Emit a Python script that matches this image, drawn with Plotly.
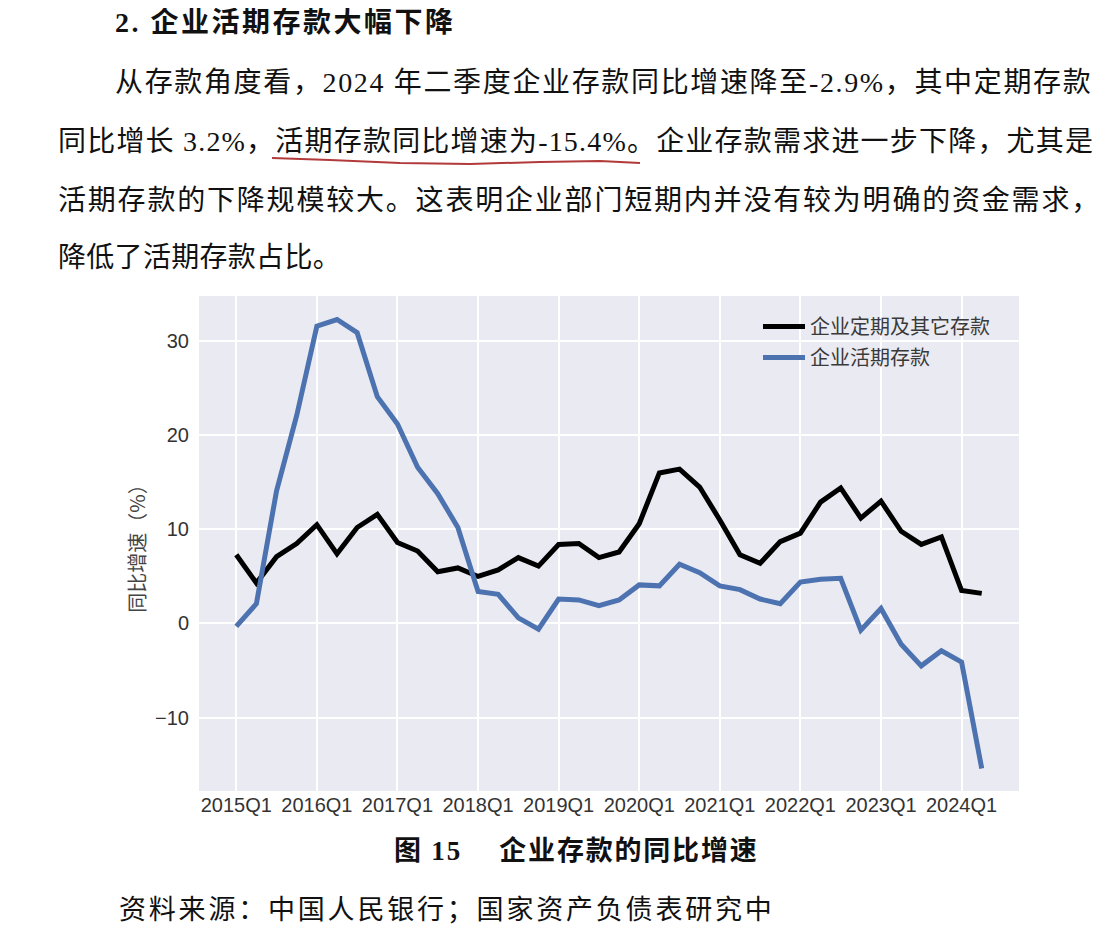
import plotly.graph_objects as go

# ---------------- data ----------------
quarters = [f"{y}Q{q}" for y in range(2015, 2025) for q in range(1, 5)][:38]
tick_labels = [f"{y}Q1" for y in range(2015, 2025)]

time_deposits = [7.3, 4.3, 7.1, 8.5, 10.5, 7.4, 10.2, 11.6,
                 8.6, 7.7, 5.5, 5.9, 5.0, 5.7, 7.0, 6.1,
                 8.4, 8.5, 7.0, 7.6, 10.6, 16.0, 16.4, 14.5,
                 11.0, 7.3, 6.4, 8.7, 9.6, 12.9, 14.4, 11.2,
                 13.0, 9.8, 8.4, 9.2, 3.5, 3.2]
demand_deposits = [-0.3, 2.1, 14.1, 22.1, 31.6, 32.3, 30.9, 24.1,
                   21.2, 16.6, 13.8, 10.2, 3.4, 3.1, 0.6, -0.6,
                   2.6, 2.5, 1.9, 2.5, 4.1, 4.0, 6.3, 5.4,
                   4.0, 3.6, 2.6, 2.1, 4.4, 4.7, 4.8, -0.7,
                   1.6, -2.2, -4.5, -2.9, -4.1, -15.4]
series_names = ["企业定期及其它存款", "企业活期存款"]
y_ticks = [-10, 0, 10, 20, 30]

# ---------------- layout helpers (page pixel coords) ----------------
OFF = 8  # page body margin
L, R, T, B = 199, 1019, 296, 791
W, H = R - L, B - T

def px(x):
    return (x - L) / W

def py(y):
    return (B - y) / H

fig = go.Figure()
fig.add_trace(go.Scatter(x=quarters, y=time_deposits, mode="lines",
                         name=series_names[0], legendgroup="a",
                         line=dict(color="#000000", width=5)))
fig.add_trace(go.Scatter(x=quarters, y=demand_deposits, mode="lines",
                         name=series_names[1], legendgroup="b",
                         line=dict(color="#4C72B0", width=5)))

TXT = "Liberation Serif, Noto Sans CJK SC"
CHART = "Liberation Sans, Arial, Noto Sans CJK SC"

def note(text, x, y, size=28, ls=0.0, bold=False, anchor="left"):
    t = text
    if ls:
        t = f'<span style="letter-spacing:{ls}px">{t}</span>'
    if bold:
        t = f"<b>{t}</b>"
    fig.add_annotation(text=t, x=px(x), y=py(y), xref="paper", yref="paper",
                       xanchor=anchor, yanchor="middle", showarrow=False,
                       font=dict(family=TXT, size=size, color="#111111"))

note("2. 企业活期存款大幅下降", 113, 22, size=28, ls=2.5, bold=True)
note("从存款角度看，2024 年二季度企业存款同比增速降至-2.9%，其中定期存款", 113, 82, ls=1.65)
note("同比增长 3.2%，活期存款同比增速为-15.4%。企业存款需求进一步下降，尤其是", 56, 141, ls=1.2)
note("活期存款的下降规模较大。这表明企业部门短期内并没有较为明确的资金需求，", 56, 200, ls=1.8)
note("降低了活期存款占比。", 56, 258, ls=0.3)
note("图 15\u2003 企业存款的同比增速", 392, 851, size=27, ls=1.8, bold=True)
note("资料来源：中国人民银行；国家资产负债表研究中", 117, 910, size=27, ls=2.8)

# red hand-drawn underline
pts = [(272, 158), (330, 160), (400, 163), (470, 164), (540, 162), (600, 161), (640, 163)]
path = "M " + " L ".join(f"{px(a):.5f},{py(b):.5f}" for a, b in pts)
fig.add_shape(type="path", path=path, xref="paper", yref="paper",
              line=dict(color="#B23A3A", width=2))

fig.update_layout(
    width=1115 - OFF, height=942 - OFF,
    margin=dict(l=L - OFF, r=1115 - R, t=T - OFF, b=942 - B),
    paper_bgcolor="white", plot_bgcolor="#EAEAF2",
    font=dict(family=CHART, color="#333333"),
    showlegend=True,
    legend=dict(x=px(758), y=py(307), xanchor="left", yanchor="top",
                bgcolor="rgba(0,0,0,0)", font=dict(size=20, color="#3a3a3a",
                family="Noto Sans CJK SC"),
                tracegroupgap=2, itemwidth=42),
)
fig.update_xaxes(type="category", range=[-1.85, 38.85],
                 tickmode="array", tickvals=tick_labels, ticktext=tick_labels,
                 showgrid=True, gridcolor="white", gridwidth=1.5,
                 ticks="", tickfont=dict(size=20, color="#333333"),
                 showline=False, zeroline=False)
fig.update_yaxes(range=[-17.8, 34.8], tickmode="array", tickvals=y_ticks,
                 ticktext=["\u221210", "0", "10", "20", "30"],
                 showgrid=True, gridcolor="white", gridwidth=1.5,
                 ticks="outside", ticklen=5, tickcolor="rgba(0,0,0,0)",
                 tickfont=dict(size=20, color="#333333"),
                 zeroline=False, showline=False,
                 title=dict(text="同比增速（%）", standoff=4,
                            font=dict(size=20, color="#444444",
                                      family="Noto Sans CJK SC")))

fig.write_html("out.html")
